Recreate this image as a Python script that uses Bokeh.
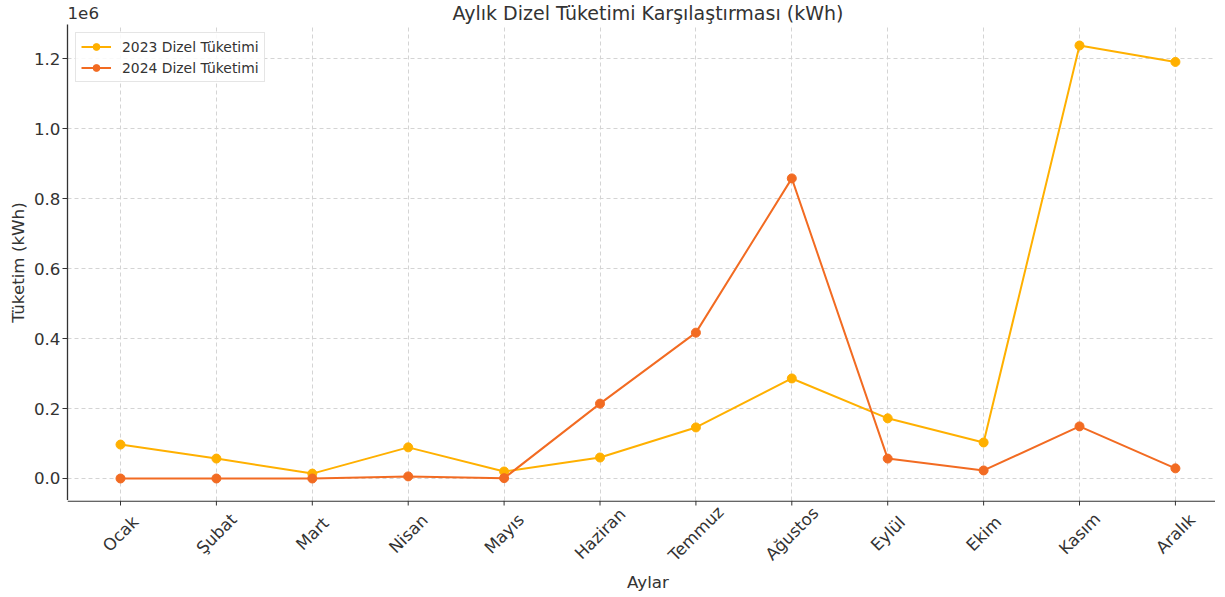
from math import pi
from bokeh.plotting import figure
from bokeh.layouts import column
from bokeh.models import (ColumnDataSource, FixedTicker, CustomJSTickFormatter, Range1d)
from bokeh.core.properties import value
from bokeh.embed import file_html
from bokeh.resources import INLINE

months = ["Ocak", "Şubat", "Mart", "Nisan", "Mayıs", "Haziran", "Temmuz",
          "Ağustos", "Eylül", "Ekim", "Kasım", "Aralık"]
diesel_2023 = [97000, 57000, 14000, 89000, 20000, 60000, 146000, 286000,
               172000, 103000, 1238000, 1191000]
diesel_2024 = [0, 0, 0, 6000, 1000, 214000, 417000, 858000,
               57000, 23000, 149000, 29000]
y_ticks = [0, 200000, 400000, 600000, 800000, 1000000, 1200000]
title_text = "Aylık Dizel Tüketimi Karşılaştırması (kWh)"
x_label = "Aylar"
y_label = "Tüketim (kWh)"
y_scale_text = "1e6"

C23 = "#FFB000"
C24 = "#F26B22"
TXT = "#333333"
FONT = "DejaVu Sans"

idx = list(range(len(months)))
mid = (len(months) - 1) / 2
src = ColumnDataSource(dict(x=idx, month=months, y23=diesel_2023, y24=diesel_2024))

W = 1215
LEFT = 67
H_TOP, H_MAIN, H_BOT = 24, 476, 92
xr = Range1d(-0.5527, 11.418)


def strip(h):
    f = figure(width=W, height=h, output_backend="svg", toolbar_location=None,
               title=None, x_range=xr, y_range=Range1d(0, h),
               x_axis_type=None, y_axis_type=None,
               min_border_left=LEFT, min_border_right=0, min_border_top=0,
               min_border_bottom=0)
    f.outline_line_color = None
    f.grid.visible = False
    return f


# ---- top strip: title and scale factor
top = strip(H_TOP)
top.text(x=[mid], y=[12], text=[title_text], text_align="center",
         text_baseline="middle", text_font=value(FONT),
         text_font_size="19px", text_color=TXT)
top.text(x=[xr.start], y=[12], text=[y_scale_text], text_align="left",
         text_baseline="middle", text_font=value(FONT),
         text_font_size="16.7px", text_color=TXT)

# ---- main plot
p = figure(width=W, height=H_MAIN, output_backend="svg", toolbar_location=None,
           title=None, x_range=xr, y_range=Range1d(-62900, 1298000),
           min_border_left=LEFT, min_border_right=0, min_border_top=0,
           min_border_bottom=0)
p.outline_line_color = None

p.xaxis.ticker = FixedTicker(ticks=idx)
p.xaxis.visible = False
p.yaxis.ticker = FixedTicker(ticks=y_ticks)
p.yaxis.formatter = CustomJSTickFormatter(code="return (tick/1e6).toFixed(1);")
p.yaxis.axis_label = y_label
p.yaxis.major_label_standoff = 2
p.yaxis.axis_label_standoff = 3
p.yaxis.major_label_text_font_size = "16.7px"
p.yaxis.axis_line_color = TXT
p.yaxis.axis_line_width = 1.3
p.yaxis.major_tick_line_color = TXT
p.yaxis.major_tick_out = 5
p.yaxis.major_tick_in = 0
p.yaxis.minor_tick_line_color = None
p.yaxis.major_label_text_font = FONT
p.yaxis.major_label_text_color = TXT
p.yaxis.axis_label_text_font = FONT
p.yaxis.axis_label_text_font_style = "normal"
p.yaxis.axis_label_text_color = TXT
p.yaxis.axis_label_text_font_size = "16.7px"

p.grid.grid_line_color = "#d4d4d4"
p.grid.grid_line_dash = "4 3"
p.grid.grid_line_width = 1

p.line("x", "y23", source=src, color=C23, line_width=2, legend_label="2023 Dizel Tüketimi")
p.scatter("x", "y23", source=src, color=C23, size=9, legend_label="2023 Dizel Tüketimi")
p.line("x", "y24", source=src, color=C24, line_width=2, legend_label="2024 Dizel Tüketimi")
p.scatter("x", "y24", source=src, color=C24, size=9, legend_label="2024 Dizel Tüketimi")

lg = p.legend[0]
lg.location = "top_left"
lg.margin = 8
lg.padding = 5
lg.spacing = 4
lg.glyph_width = 30
lg.glyph_height = 17
lg.label_height = 17
lg.label_standoff = 11
lg.label_text_font = FONT
lg.label_text_font_size = "13.9px"
lg.label_text_color = TXT
lg.border_line_color = "#cccccc"
lg.background_fill_alpha = 0.85

# ---- bottom strip: x axis line, ticks, rotated month labels, axis title
bot = strip(H_BOT)
bot.segment(x0=[xr.start], x1=[xr.end], y0=[H_BOT - 0.65], y1=[H_BOT - 0.65],
            line_color=TXT, line_width=1.3)
bot.segment(x0="x", x1="x", y0=H_BOT, y1=H_BOT - 5, source=src,
            line_color=TXT, line_width=1)
bot.text(x="x", y=H_BOT - 33, text="month", source=src, angle=pi / 4,
         text_align="center", text_baseline="middle", text_font=value(FONT),
         text_font_size="16.7px", text_color=TXT)
bot.text(x=[mid], y=[H_BOT - 81], text=[x_label], text_align="center",
         text_baseline="middle", text_font=value(FONT),
         text_font_size="16.7px", text_color=TXT)

layout = column(top, p, bot, spacing=0)
open("out.html", "w").write(file_html(layout, INLINE))
